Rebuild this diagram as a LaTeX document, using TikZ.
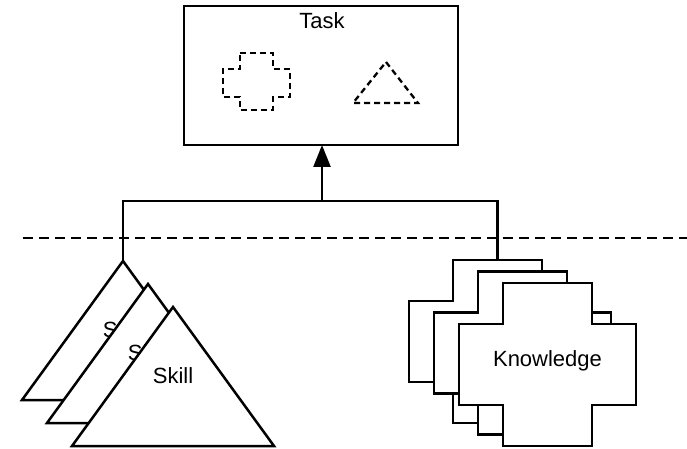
\documentclass[tikz,border=0pt]{standalone}
\usepackage{fontspec}
\setmainfont{Liberation Sans}
\usetikzlibrary{arrows.meta}
\begin{document}
\begin{tikzpicture}[x=1pt,y=-1pt,
  shape line/.style={draw=black,line width=2.5pt,fill=white,line join=miter},
  lbl/.style={font=\fontsize{22}{26}\selectfont,inner sep=0pt},
  hint/.style={draw=black,line width=2.3pt,dash pattern=on 6pt off 4pt},
  link/.style={draw=black,line width=2.5pt},
  divider/.style={draw=black,line width=2.5pt,dash pattern=on 10pt off 6pt}]
\useasboundingbox (0,0) rectangle (687,449);

% task box with its two placeholder shapes
\draw[shape line] (184,6) rectangle (458,145);
\node[lbl] (task) at (322,21) {Task};
\coordinate (taskbottom) at (322,145);
\draw[hint] (240,53) -- (273,53) -- (273,69) -- (290,69) -- (290,97) -- (273,97)
  -- (273,110) -- (240,110) -- (240,97) -- (223,97) -- (223,69) -- (240,69) -- cycle;
\draw[hint] (386,62) -- (418,103) -- (353,103) -- cycle;

% divider
\coordinate (dl) at (23,238);
\coordinate (dr) at (687,238);
\draw[divider] (dl) -- (dr);

% stacked skill triangles, back to front
\foreach \i/\dx/\dy in {1/0/0,2/25/23,3/50/46}{
  \draw[shape line] (123+\dx,261+\dy) coordinate (apex\i) -- (224+\dx,400+\dy) -- (22+\dx,400+\dy) -- cycle;
  \node[lbl] (skill\i) at (123+\dx,330+\dy) {Skill};
}

% stacked knowledge crosses, back to front
\foreach \i/\dx/\dy in {1/0/0,2/25/11.5,3/50/23}{
  \begin{scope}[shift={(\dx,\dy)}]
  \draw[shape line] (453,260) -- (542,260) -- (542,301) -- (586,301) -- (586,382)
    -- (542,382) -- (542,423) -- (453,423) -- (453,382) -- (409,382) -- (409,301)
    -- (453,301) -- cycle;
  \end{scope}
}
\coordinate (ktop) at (497.5,260);
\node[lbl] (know) at (547.5,361) {Knowledge};

% connectors
\coordinate (joinl) at (123,201);
\coordinate (joinr) at (497.5,201);
\coordinate (joinm) at (322,201);
\draw[link] (apex1) -- (joinl) -- (joinr) -- (ktop);
\draw[link,-{Triangle[length=22pt,width=17pt]}] (joinm) -- (taskbottom);
\end{tikzpicture}
\end{document}
